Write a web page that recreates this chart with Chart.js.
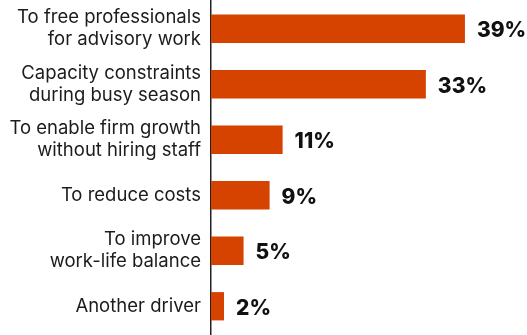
<!DOCTYPE html>
<html>
<head>
<meta charset="utf-8">
<script src="https://cdn.jsdelivr.net/npm/chart.js@4/dist/chart.umd.min.js"></script>
<style>
  html, body { margin: 0; padding: 0; background: #ffffff; }
  #wrap { width: 527px; height: 335px; position: relative; }
</style>
</head>
<body>
<div id="wrap"><canvas id="chart"></canvas></div>
<script>
// Reasons for outsourcing, share of respondents (%)
const categories = [
  ['To free professionals', 'for advisory work'],
  ['Capacity constraints', 'during busy season'],
  ['To enable firm growth', 'without hiring staff'],
  'To reduce costs',
  ['To improve', 'work-life balance'],
  'Another driver'
];
const shares = [39, 33, 11, 9, 5, 2];
const valueLabels = ['39%', '33%', '11%', '9%', '5%', '2%'];

const BAR_COLOR = '#D64200';
const TEXT_COLOR = '#1c1c1c';

// Writes the percentage just past the end of each bar
const barValueLabels = {
  id: 'barValueLabels',
  afterDatasetsDraw(chart) {
    const ctx = chart.ctx;
    const meta = chart.getDatasetMeta(0);
    ctx.save();
    ctx.font = '800 21px Inter, "DejaVu Sans", sans-serif';
    ctx.fillStyle = '#111111';
    ctx.textAlign = 'left';
    ctx.textBaseline = 'middle';
    meta.data.forEach((bar, i) => {
      ctx.fillText(valueLabels[i], bar.x + 12, bar.y + 2);
    });
    ctx.restore();
  }
};

new Chart(document.getElementById('chart'), {
  type: 'bar',
  data: {
    labels: categories,
    datasets: [{
      data: shares,
      backgroundColor: BAR_COLOR,
      borderWidth: 0,
      barPercentage: 0.51,
      categoryPercentage: 1.0
    }]
  },
  options: {
    indexAxis: 'y',
    responsive: true,
    maintainAspectRatio: false,
    animation: false,
    layout: { padding: { top: 1, bottom: 1, right: 23, left: 0 } },
    plugins: {
      legend: { display: false },
      tooltip: { enabled: false }
    },
    scales: {
      x: {
        display: false,
        min: 0,
        max: 45
      },
      y: {
        afterFit(scale) {
          scale.width = 211;
          scale.paddingTop = 0;
          scale.paddingBottom = 0;
        },
        grid: { display: false, drawTicks: false },
        border: { display: true, color: '#222222', width: 1.5 },
        ticks: {
          padding: 10,
          color: TEXT_COLOR,
          font: { family: 'Inter, "DejaVu Sans", sans-serif', size: 18.5, lineHeight: 1.2 }
        }
      }
    }
  },
  plugins: [barValueLabels]
});
</script>
</body>
</html>
